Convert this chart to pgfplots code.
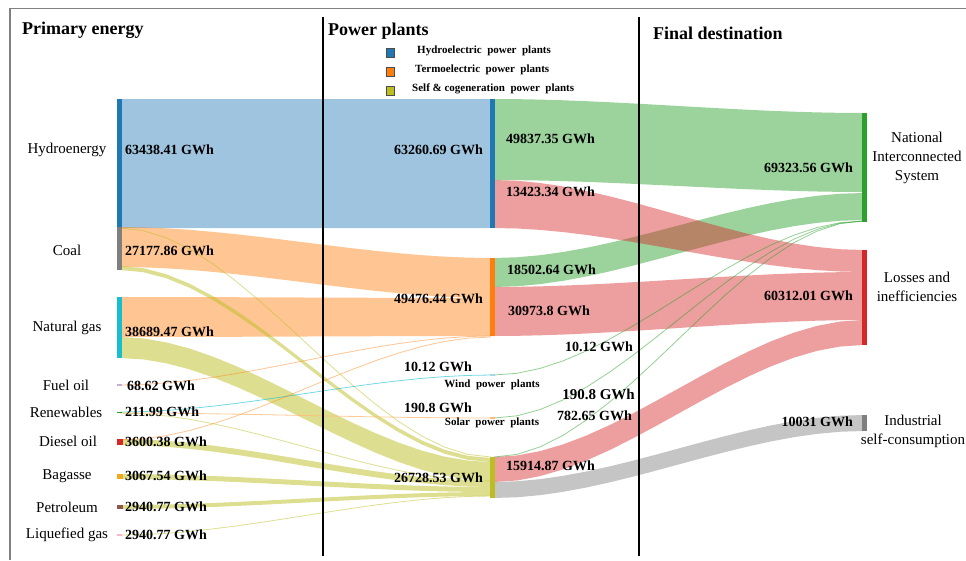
\documentclass[border=0pt]{standalone}
\usepackage{pgfplots}
\pgfplotsset{compat=1.18}
\usepackage{fontspec}
\setmainfont{Liberation Serif}
\newfontfamily\tnr{Liberation Serif}
\definecolor{cblue}{HTML}{1F77B4}
\definecolor{corange}{HTML}{FF7F0E}
\definecolor{colive}{HTML}{BCBD22}
\definecolor{cgreen}{HTML}{2CA02C}
\definecolor{cred}{HTML}{D62728}
\definecolor{cgray}{HTML}{7F7F7F}
\definecolor{ccyan}{HTML}{17BECF}
\definecolor{clav}{HTML}{C5B0D5}
\definecolor{cbag}{HTML}{F2A81D}
\definecolor{cbrown}{HTML}{8C564B}
\definecolor{cpink}{HTML}{F7B6D2}
\definecolor{cwind}{HTML}{9EDAE5}
\definecolor{csolar}{HTML}{FFBB78}
% flow band: x1 top1 bottom1 x2 top2 bottom2 style
\newcommand\flow[7]{%
  \gdef\flowpts{}%
  \foreach \s in {0,0.0625,...,1}{%
    \pgfmathsetmacro\xx{#1+(#4-#1)*\s}%
    \pgfmathsetmacro\yy{#2+(#5-#2)*(3*\s*\s-2*\s*\s*\s)}%
    \xdef\flowpts{\flowpts (\xx,\yy)}%
  }%
  \foreach \s in {1,0.9375,...,0}{%
    \pgfmathsetmacro\xx{#1+(#4-#1)*\s}%
    \pgfmathsetmacro\yy{#3+(#6-#3)*(3*\s*\s-2*\s*\s*\s)}%
    \xdef\flowpts{\flowpts (\xx,\yy)}%
  }%
  \edef\tmp{\noexpand\addplot[draw=none,#7] coordinates {\flowpts};}\tmp
}
% thin flow line: x1 y1 x2 y2 style
\newcommand\flowline[5]{%
  \gdef\flowpts{}%
  \foreach \s in {0,0.0625,...,1}{%
    \pgfmathsetmacro\xx{#1+(#3-#1)*\s}%
    \pgfmathsetmacro\yy{#2+(#4-#2)*(3*\s*\s-2*\s*\s*\s)}%
    \xdef\flowpts{\flowpts (\xx,\yy)}%
  }%
  \edef\tmp{\noexpand\addplot[#5] coordinates {\flowpts};}\tmp
}
\newcommand\nodebar[5]{\addplot[fill=#5,draw=none] coordinates {(#1,#3)(#2,#3)(#2,#4)(#1,#4)};}
\tikzset{
  val/.style={font=\tnr\fontsize{14}{16}\selectfont\bfseries, inner sep=0pt},
  lab/.style={font=\tnr\fontsize{15}{19}\selectfont, inner sep=0pt, align=center},
  head/.style={font=\tnr\fontsize{18}{20}\selectfont\bfseries, inner sep=0pt, anchor=base west},
  leg/.style={font=\tnr\fontsize{11}{12}\selectfont\bfseries, inner sep=0pt, anchor=west},
}
\begin{document}
\begin{tikzpicture}
\begin{axis}[at={(0,0)}, anchor=south west, scale only axis, width=966pt, height=560pt,
  xmin=0, xmax=966, ymin=0, ymax=560, y dir=reverse, hide axis, clip=false]
% ---- flows: primary -> power plants
\flow{120}{99}{228}{491}{99}{228}{fill=cblue, fill opacity=0.43}
\flow{120}{227}{267}{491}{258}{298}{fill=corange, fill opacity=0.45}
\flow{120}{297}{337}{491}{298}{336}{fill=corange, fill opacity=0.45}
\flow{120}{266}{270}{491}{458}{462}{fill=colive, fill opacity=0.5}
\flow{120}{337}{358}{491}{462}{481}{fill=colive, fill opacity=0.5}
\flow{120}{439}{445}{491}{481}{487}{fill=colive, fill opacity=0.5}
\flow{120}{474}{479}{491}{487}{492}{fill=colive, fill opacity=0.5}
\flow{120}{505}{509}{491}{492}{496}{fill=colive, fill opacity=0.5}
\flowline{120}{228}{491}{457}{colive, opacity=0.5, line width=0.8pt}
\flowline{120}{385}{491}{336}{corange, opacity=0.45, line width=0.8pt}
\flowline{120}{412}{491}{375}{ccyan, opacity=0.6, line width=0.8pt}
\flowline{120}{413}{491}{418}{csolar, opacity=0.8, line width=0.8pt}
\flowline{120}{413}{491}{481}{colive, opacity=0.5, line width=0.8pt}
\flowline{120}{440}{491}{337}{corange, opacity=0.45, line width=0.8pt}
\flowline{120}{535}{491}{496}{colive, opacity=0.5, line width=0.8pt}
% ---- flows: power plants -> final destination
\flow{494}{99}{180}{863}{113}{192}{fill=cgreen, fill opacity=0.47}
\flow{494}{258}{287}{863}{193}{220}{fill=cgreen, fill opacity=0.47}
\flow{494}{180}{228}{863}{250}{272}{fill=cred, fill opacity=0.45}
\flow{494}{287}{336}{863}{272}{320}{fill=cred, fill opacity=0.45}
\flow{494}{457}{482}{863}{320}{345}{fill=cred, fill opacity=0.45}
\flow{494}{482}{498}{863}{415}{431}{fill=cgray, fill opacity=0.45}
\flowline{494}{375}{863}{221}{cgreen, opacity=0.5, line width=0.8pt}
\flowline{494}{418}{863}{221}{cgreen, opacity=0.5, line width=0.8pt}
\flowline{494}{457}{863}{221}{cgreen, opacity=0.5, line width=0.8pt}
% ---- node bars
\nodebar{117}{122}{99}{228}{cblue}
\nodebar{117}{122}{227}{270}{cgray}
\nodebar{117}{122}{297}{358}{ccyan}
\nodebar{117}{122}{384.3}{385.8}{clav}
\nodebar{117}{122}{411.5}{413}{cgreen}
\nodebar{117}{123}{439}{445}{cred}
\nodebar{117}{123}{474}{479}{cbag}
\nodebar{117}{123}{505}{509}{cbrown}
\nodebar{117}{122}{534.3}{535.8}{cpink}
\nodebar{490}{495}{99}{228}{cblue}
\nodebar{490}{495}{258}{336}{corange}
\nodebar{490}{495}{374}{376}{cwind}
\nodebar{490}{495}{417}{419}{csolar}
\nodebar{490}{495}{457}{498}{colive}
\nodebar{862}{867}{113}{222}{cgreen}
\nodebar{862}{867}{250}{345}{cred}
\nodebar{862}{867}{415}{431}{cgray}
% ---- frame and separators
\addplot[gray, line width=1.5pt] coordinates {(10,560)(10,8.5)(966,8.5)};
\addplot[black, line width=2.5pt] coordinates {(323,17)(323,556)};
\addplot[black, line width=2.5pt] coordinates {(639,17)(639,556)};
% ---- legend
\addplot[fill=cblue, draw=black!70, line width=0.5pt] coordinates {(386,48)(394,48)(394,57)(386,57)} --cycle;
\addplot[fill=corange, draw=black!70, line width=0.5pt] coordinates {(386,67)(394,67)(394,76)(386,76)} --cycle;
\addplot[fill=colive, draw=black!70, line width=0.5pt] coordinates {(386,86)(394,86)(394,95)(386,95)} --cycle;
\node[leg] at (axis cs:417,51) {Hydroelectric\ \ power\ \ plants};
\node[leg] at (axis cs:415,70) {Termoelectric\ \ power\ \ plants};
\node[leg] at (axis cs:412,89) {Self \& cogeneration\ \ power\ \ plants};
% ---- headers
\node[head] at (axis cs:22,34) {Primary energy};
\node[head] at (axis cs:328,35) {Power plants};
\node[head] at (axis cs:653,39) {Final destination};
% ---- left labels
\node[lab] at (axis cs:67,150) {Hydroenergy};
\node[lab] at (axis cs:67,250) {Coal};
\node[lab] at (axis cs:67,328) {Natural gas};
\node[lab] at (axis cs:66,385) {Fuel oil};
\node[lab] at (axis cs:66,412) {Renewables};
\node[lab] at (axis cs:68,441) {Diesel oil};
\node[lab] at (axis cs:67,476) {Bagasse};
\node[lab] at (axis cs:67,507) {Petroleum};
\node[lab] at (axis cs:67,535) {Liquefied gas};
% ---- left values
\node[val, anchor=west] at (axis cs:125,150) {63438.41 GWh};
\node[val, anchor=west] at (axis cs:125,251) {27177.86 GWh};
\node[val, anchor=west] at (axis cs:125,332) {38689.47 GWh};
\node[val, anchor=west] at (axis cs:127,386) {68.62 GWh};
\node[val, anchor=west] at (axis cs:125,412) {211.99 GWh};
\node[val, anchor=west] at (axis cs:125,442) {3600.38 GWh};
\node[val, anchor=west] at (axis cs:125,476) {3067.54 GWh};
\node[val, anchor=west] at (axis cs:125,507) {2940.77 GWh};
\node[val, anchor=west] at (axis cs:125,535) {2940.77 GWh};
% ---- middle values
\node[val, anchor=east] at (axis cs:483,150) {63260.69 GWh};
\node[val, anchor=east] at (axis cs:483,299) {49476.44 GWh};
\node[val, anchor=east] at (axis cs:483,478) {26728.53 GWh};
\node[val, anchor=west] at (axis cs:506,139) {49837.35 GWh};
\node[val, anchor=west] at (axis cs:506,192) {13423.34 GWh};
\node[val, anchor=west] at (axis cs:507,270) {18502.64 GWh};
\node[val, anchor=west] at (axis cs:508,311) {30973.8 GWh};
\node[val, anchor=west] at (axis cs:506,466) {15914.87 GWh};
\node[val] at (axis cs:438,367) {10.12 GWh};
\node[leg, anchor=center] at (axis cs:492,385) {Wind\ \ power\ \ plants};
\node[val] at (axis cs:438,408) {190.8 GWh};
\node[leg, anchor=center] at (axis cs:492,423) {Solar\ \ power\ \ plants};
\node[val, anchor=east] at (axis cs:633,347) {10.12 GWh};
\node[val, anchor=east, font=\tnr\fontsize{15}{17}\selectfont\bfseries] at (axis cs:635,394) {190.8 GWh};
\node[val, anchor=east] at (axis cs:632,416) {782.65 GWh};
% ---- right values and labels
\node[val, anchor=east] at (axis cs:853,168) {69323.56 GWh};
\node[val, anchor=east] at (axis cs:853,296) {60312.01 GWh};
\node[val, anchor=east] at (axis cs:853,422) {10031 GWh};
\node[lab] at (axis cs:917,158) {National\\Interconnected\\System};
\node[lab] at (axis cs:917,287) {Losses and\\inefficiencies};
\node[lab] at (axis cs:913,431) {Industrial\\self-consumption};
\end{axis}
\pgfresetboundingbox
\useasboundingbox (0,0) rectangle (966pt,560pt);
\end{tikzpicture}
\end{document}
